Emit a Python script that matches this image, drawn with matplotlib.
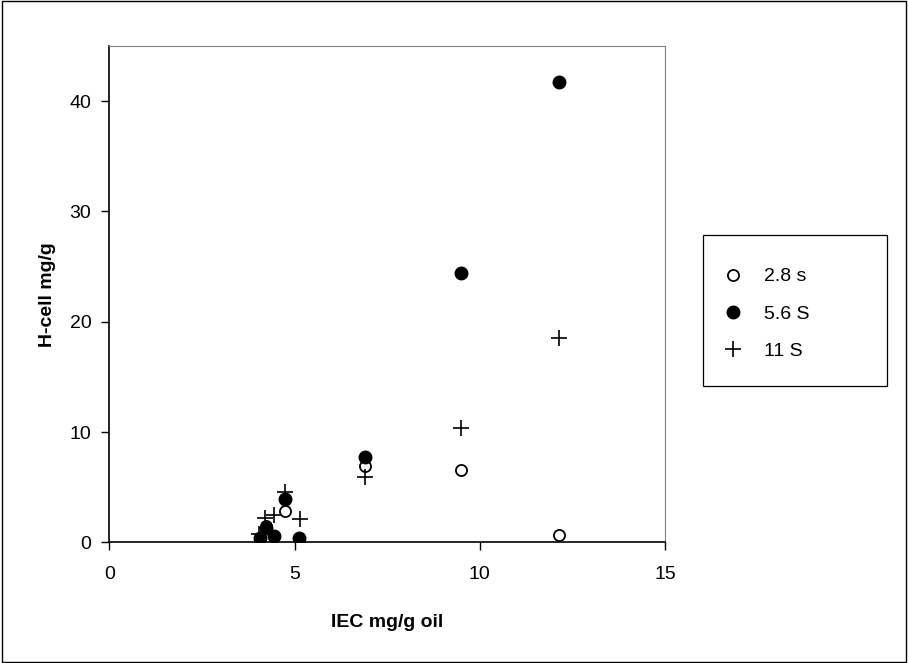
import matplotlib
matplotlib.use('Agg')
import matplotlib.pyplot as plt
from matplotlib.patches import Rectangle

plt.rcParams['font.family'] = ['Liberation Sans', 'DejaVu Sans']

# IEC (x) and H-cell (y) values per series
x_28 = [4.08, 4.23, 4.45, 4.73, 5.12, 6.89, 9.5, 12.13]
y_28 = [0.4, 1.5, 0.6, 2.85, 0.3, 6.95, 6.6, 0.65]

x_56 = [4.08, 4.23, 4.45, 4.73, 5.12, 6.89, 9.5, 12.13]
y_56 = [0.35, 1.3, 0.6, 3.9, 0.35, 7.7, 24.45, 41.7]

x_11 = [4.05, 4.2, 4.45, 4.73, 5.14, 6.89, 9.5, 12.13]
y_11 = [0.8, 2.2, 2.5, 4.6, 2.1, 5.95, 10.35, 18.5]

labels = ['2.8 s', '5.6 S', '11 S']

fig = plt.figure(figsize=(9.08, 6.63), dpi=100)
ax = fig.add_axes([0.1204, 0.182, 0.612, 0.7486])

ax.plot(x_28, y_28, 'o', mfc='white', mec='black', mew=1.3, ms=8, label=labels[0])
ax.plot(x_56, y_56, 'o', mfc='black', mec='black', ms=9, label=labels[1])
ax.plot(x_11, y_11, '+', color='black', mew=1.2, ms=12, label=labels[2])

ax.set_xlim(0, 15)
ax.set_ylim(0, 45)
ax.set_xticks([0, 5, 10, 15])
ax.set_yticks([0, 10, 20, 30, 40])
ax.tick_params(direction='out', length=6, width=1, labelsize=14)
ax.tick_params(axis='y', pad=7)
ax.tick_params(axis='x', pad=11)
for s in ['top', 'right']:
    ax.spines[s].set_color('#808080')
for s in ['left', 'bottom']:
    ax.spines[s].set_linewidth(1.2)

ax.set_xlabel('IEC mg/g oil', fontsize=14, fontweight='bold', labelpad=22)
ax.set_ylabel('H-cell mg/g', fontsize=14, fontweight='bold', labelpad=10)

# legend frame drawn separately (wide box with empty space on the right)
fig.patches.append(Rectangle((0.7742, 0.4178), 0.2026, 0.2278, transform=fig.transFigure,
                             fill=False, edgecolor='black', linewidth=0.9))
fig.legend(loc='upper left', bbox_to_anchor=(0.797, 0.596), frameon=False,
           fontsize=14, handletextpad=1.05, labelspacing=1.0,
           borderpad=0, handlelength=1.0, borderaxespad=0)

fig.patches.append(Rectangle((0.002, 0.002), 0.996, 0.996, transform=fig.transFigure,
                             fill=False, edgecolor='black', linewidth=1))

fig.savefig('out.png', dpi=100)
